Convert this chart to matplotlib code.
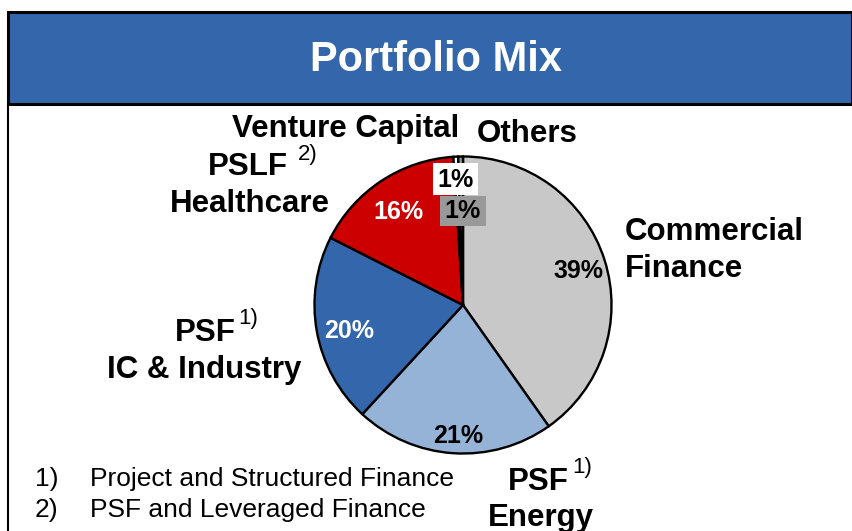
import matplotlib.pyplot as plt
from matplotlib.patches import Rectangle
from matplotlib.lines import Line2D

plt.rcParams['font.family'] = ['Liberation Sans', 'DejaVu Sans']

# Portfolio shares (clockwise from 12 o'clock)
segments = ['Commercial Finance', 'PSF Energy', 'PSF IC & Industry',
            'PSLF Healthcare', 'Venture Capital', 'Others']
shares = [39, 21, 20, 16, 0.5, 0.5]
pct_labels = ['39%', '21%', '20%', '16%', '1%', '1%']
colors = ['#C8C8C8', '#95B3D7', '#3366AA', '#CC0000', '#FFFFFF', '#999999']

W, H = 852, 531
fig = plt.figure(figsize=(W / 100, H / 100), dpi=100)


def px(x, y):
    # pixel position (from top-left) -> figure fraction
    return x / W, 1 - y / H


# title bar
fig.patches.append(Rectangle(px(8, 104), (W - 8) / W, 92 / H, transform=fig.transFigure,
                             facecolor='#3366AA', edgecolor='black', linewidth=2.2))
fig.lines.append(Line2D([8 / W, 8 / W], [0, 1 - 104 / H], transform=fig.transFigure,
                        color='black', linewidth=1.5))
fig.text(*px(436, 60), 'Portfolio Mix', color='white', fontsize=30, fontweight='bold',
         ha='center', va='center')

# pie
ax = fig.add_axes([313 / W, 1 - 455 / H, 300 / W, 300 / H])
ax.pie(shares, colors=colors, startangle=90, counterclock=False,
       wedgeprops=dict(edgecolor='black', linewidth=1.7))
ax.set_xlim(-1.01, 1.01)
ax.set_ylim(-1.01, 1.01)
ax.set_aspect('equal')
ax.axis('off')

# percent labels
pct_pos = [(578, 271), (458, 436), (349, 331), (398, 212), (456, 180), (463, 211)]
pct_color = ['black', 'black', 'white', 'white', 'black', 'black']
for lab, (x, y), c in zip(pct_labels, pct_pos, pct_color):
    fig.text(*px(x, y), lab, color=c, fontsize=18, fontweight='bold',
             ha='center', va='center')
fig.patches.append(Rectangle(px(433, 195), 45 / W, 32 / H, transform=fig.transFigure,
                             facecolor='white', edgecolor='none', zorder=0.5))
fig.patches.append(Rectangle(px(440, 226), 46 / W, 30 / H, transform=fig.transFigure,
                             facecolor='#999999', edgecolor='none', zorder=0.5))

# segment names
big = dict(fontsize=22.5, fontweight='bold', color='black', va='baseline')
sup = dict(fontsize=16, color='black', va='baseline')
fig.text(*px(232, 137), 'Venture Capital', ha='left', **big)
fig.text(*px(477, 142), 'Others', ha='left', **big)
fig.text(*px(208, 175), 'PSLF', ha='left', **big)
fig.text(*px(298, 160), '2)', ha='left', **sup)
fig.text(*px(170, 212), 'Healthcare', ha='left', **big)
fig.text(*px(625, 240), 'Commercial', ha='left', **big)
fig.text(*px(625, 277), 'Finance', ha='left', **big)
fig.text(*px(175, 341), 'PSF', ha='left', **big)
fig.text(*px(238, 324), '1)', ha='left', **sup)
fig.text(*px(204, 378), 'IC & Industry', ha='center', **big)
fig.text(*px(508, 490), 'PSF', ha='left', **big)
fig.text(*px(572, 473), '1)', ha='left', **sup)
fig.text(*px(488, 526), 'Energy', ha='left', **big)

# footnotes
fig.text(*px(35, 486), '1)', fontsize=19, va='baseline')
fig.text(*px(90, 486), 'Project and Structured Finance', fontsize=19, va='baseline')
fig.text(*px(35, 517), '2)', fontsize=19, va='baseline')
fig.text(*px(90, 517), 'PSF and Leveraged Finance', fontsize=19, va='baseline')

fig.savefig('out.png', dpi=100)
